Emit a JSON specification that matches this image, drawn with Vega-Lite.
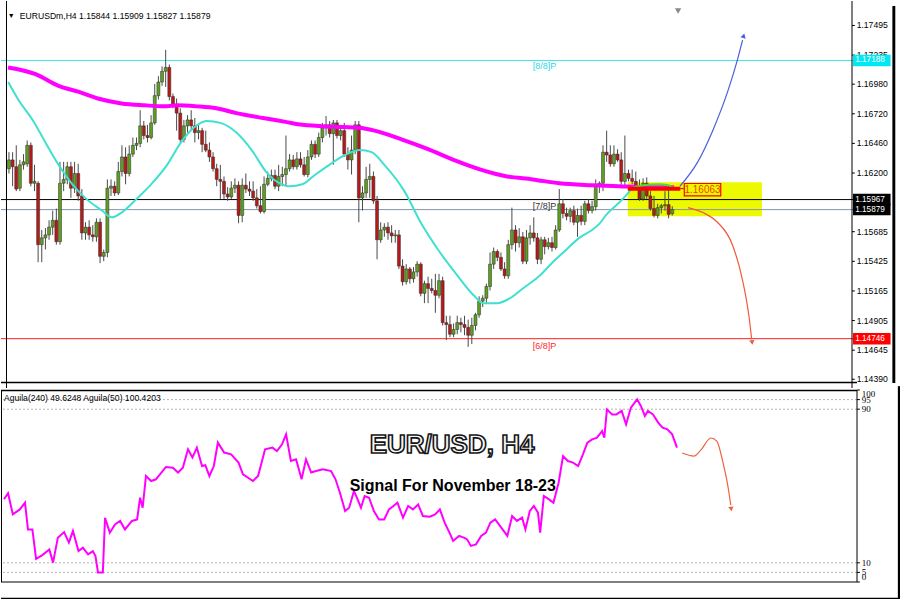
{
  "$schema": "https://vega.github.io/schema/vega-lite/v6.json",
  "padding": 0,
  "background": "#ffffff",
  "bounds": "flush",
  "spacing": 2,
  "config": {
    "view": {"stroke": null},
    "font": "Liberation Sans",
    "axis": {"labelFont": "Liberation Sans", "labelFontSize": 8.6, "labelColor": "#000000", "tickColor": "#000000", "domain": false, "grid": false, "labelOverlap": false, "labelBound": false}
  },
  "datasets": {
    "candles": [
      {"i":0,"o":1.16238,"h":1.16383,"l":1.16196,"c":1.16315},
      {"i":1,"o":1.16315,"h":1.16383,"l":1.16084,"c":1.16255},
      {"i":2,"o":1.16255,"h":1.16443,"l":1.16041,"c":1.16059},
      {"i":3,"o":1.16067,"h":1.16315,"l":1.16041,"c":1.16272},
      {"i":4,"o":1.16272,"h":1.16366,"l":1.1623,"c":1.16298},
      {"i":5,"o":1.16281,"h":1.16486,"l":1.16255,"c":1.16443},
      {"i":6,"o":1.16443,"h":1.16469,"l":1.16084,"c":1.1611},
      {"i":7,"o":1.1611,"h":1.16272,"l":1.16041,"c":1.16127},
      {"i":8,"o":1.1611,"h":1.16127,"l":1.15417,"c":1.15571},
      {"i":9,"o":1.15571,"h":1.157,"l":1.15417,"c":1.15631},
      {"i":10,"o":1.15631,"h":1.15717,"l":1.15529,"c":1.15657},
      {"i":11,"o":1.15657,"h":1.15785,"l":1.15614,"c":1.15725},
      {"i":12,"o":1.15725,"h":1.1587,"l":1.15657,"c":1.15785},
      {"i":13,"o":1.15785,"h":1.15888,"l":1.15571,"c":1.15597},
      {"i":14,"o":1.15597,"h":1.16298,"l":1.15571,"c":1.1611},
      {"i":15,"o":1.1611,"h":1.16298,"l":1.16041,"c":1.16144},
      {"i":16,"o":1.16144,"h":1.16298,"l":1.16101,"c":1.16255},
      {"i":17,"o":1.16255,"h":1.16298,"l":1.15982,"c":1.16067},
      {"i":18,"o":1.16067,"h":1.16298,"l":1.16025,"c":1.16196},
      {"i":19,"o":1.16196,"h":1.16281,"l":1.15956,"c":1.15999},
      {"i":20,"o":1.15999,"h":1.16059,"l":1.15614,"c":1.15674},
      {"i":21,"o":1.15674,"h":1.15768,"l":1.15614,"c":1.15725},
      {"i":22,"o":1.15725,"h":1.15785,"l":1.15614,"c":1.15657},
      {"i":23,"o":1.15657,"h":1.15742,"l":1.15597,"c":1.1564},
      {"i":24,"o":1.1564,"h":1.15802,"l":1.15597,"c":1.15768},
      {"i":25,"o":1.15768,"h":1.15802,"l":1.15409,"c":1.15469},
      {"i":26,"o":1.15469,"h":1.15529,"l":1.15426,"c":1.15503},
      {"i":27,"o":1.15503,"h":1.16144,"l":1.1546,"c":1.16067},
      {"i":28,"o":1.16067,"h":1.16144,"l":1.15999,"c":1.16084},
      {"i":29,"o":1.16084,"h":1.16127,"l":1.15999,"c":1.16025},
      {"i":30,"o":1.16025,"h":1.16298,"l":1.16007,"c":1.16213},
      {"i":31,"o":1.16213,"h":1.16443,"l":1.1617,"c":1.16341},
      {"i":32,"o":1.16341,"h":1.16426,"l":1.16101,"c":1.16196},
      {"i":33,"o":1.16196,"h":1.16443,"l":1.1617,"c":1.16366},
      {"i":34,"o":1.16366,"h":1.16512,"l":1.16341,"c":1.16443},
      {"i":35,"o":1.16443,"h":1.16512,"l":1.16401,"c":1.1646},
      {"i":36,"o":1.1646,"h":1.16751,"l":1.16426,"c":1.16614},
      {"i":37,"o":1.16614,"h":1.16657,"l":1.16495,"c":1.16529},
      {"i":38,"o":1.16529,"h":1.16623,"l":1.16469,"c":1.16512},
      {"i":39,"o":1.16512,"h":1.16708,"l":1.16495,"c":1.1664},
      {"i":40,"o":1.1664,"h":1.16982,"l":1.16623,"c":1.16879},
      {"i":41,"o":1.16879,"h":1.1705,"l":1.16845,"c":1.16999},
      {"i":42,"o":1.16999,"h":1.17136,"l":1.16965,"c":1.17093},
      {"i":43,"o":1.17093,"h":1.17281,"l":1.16956,"c":1.17127},
      {"i":44,"o":1.17127,"h":1.17153,"l":1.16837,"c":1.16871},
      {"i":45,"o":1.16871,"h":1.16897,"l":1.16768,"c":1.16802},
      {"i":46,"o":1.16802,"h":1.16854,"l":1.16572,"c":1.16726},
      {"i":47,"o":1.16726,"h":1.16768,"l":1.16469,"c":1.16495},
      {"i":48,"o":1.16495,"h":1.16666,"l":1.16469,"c":1.16614},
      {"i":49,"o":1.16614,"h":1.16708,"l":1.16555,"c":1.16666},
      {"i":50,"o":1.16666,"h":1.16751,"l":1.16572,"c":1.16614},
      {"i":51,"o":1.16614,"h":1.16683,"l":1.16469,"c":1.16555},
      {"i":52,"o":1.16555,"h":1.16623,"l":1.16495,"c":1.16572},
      {"i":53,"o":1.16572,"h":1.16597,"l":1.16383,"c":1.16452},
      {"i":54,"o":1.16452,"h":1.16572,"l":1.16383,"c":1.16401},
      {"i":55,"o":1.16401,"h":1.16469,"l":1.16298,"c":1.16341},
      {"i":56,"o":1.16341,"h":1.16383,"l":1.16213,"c":1.16238},
      {"i":57,"o":1.16238,"h":1.16281,"l":1.16084,"c":1.16144},
      {"i":58,"o":1.16144,"h":1.16272,"l":1.15973,"c":1.16127},
      {"i":59,"o":1.16127,"h":1.1617,"l":1.15973,"c":1.16016},
      {"i":60,"o":1.16016,"h":1.16076,"l":1.15956,"c":1.1599},
      {"i":61,"o":1.1599,"h":1.16127,"l":1.15973,"c":1.16067},
      {"i":62,"o":1.16067,"h":1.16153,"l":1.16025,"c":1.16093},
      {"i":63,"o":1.16093,"h":1.16127,"l":1.15759,"c":1.15828},
      {"i":64,"o":1.15828,"h":1.16153,"l":1.15768,"c":1.16093},
      {"i":65,"o":1.16093,"h":1.16196,"l":1.16025,"c":1.16059},
      {"i":66,"o":1.16059,"h":1.16127,"l":1.15999,"c":1.16041},
      {"i":67,"o":1.16041,"h":1.16127,"l":1.15956,"c":1.15982},
      {"i":68,"o":1.15982,"h":1.16059,"l":1.15888,"c":1.15913},
      {"i":69,"o":1.15913,"h":1.16084,"l":1.15845,"c":1.15862},
      {"i":70,"o":1.15862,"h":1.1617,"l":1.15845,"c":1.16101},
      {"i":71,"o":1.16101,"h":1.16213,"l":1.16084,"c":1.16153},
      {"i":72,"o":1.16153,"h":1.1623,"l":1.16127,"c":1.16179},
      {"i":73,"o":1.16179,"h":1.1623,"l":1.16059,"c":1.16084},
      {"i":74,"o":1.16084,"h":1.16272,"l":1.16041,"c":1.1617},
      {"i":75,"o":1.1617,"h":1.16255,"l":1.16084,"c":1.16187},
      {"i":76,"o":1.16187,"h":1.16529,"l":1.16084,"c":1.16238},
      {"i":77,"o":1.16238,"h":1.16366,"l":1.16213,"c":1.16315},
      {"i":78,"o":1.16315,"h":1.16358,"l":1.1623,"c":1.16255},
      {"i":79,"o":1.16255,"h":1.16383,"l":1.1623,"c":1.16324},
      {"i":80,"o":1.16324,"h":1.16383,"l":1.16247,"c":1.16272},
      {"i":81,"o":1.16272,"h":1.16341,"l":1.1617,"c":1.16187},
      {"i":82,"o":1.16187,"h":1.16401,"l":1.16162,"c":1.16341},
      {"i":83,"o":1.16341,"h":1.16486,"l":1.16315,"c":1.16452},
      {"i":84,"o":1.16452,"h":1.16486,"l":1.16332,"c":1.16366},
      {"i":85,"o":1.16366,"h":1.16555,"l":1.16341,"c":1.16512},
      {"i":86,"o":1.16512,"h":1.1664,"l":1.16469,"c":1.16597},
      {"i":87,"o":1.16597,"h":1.167,"l":1.16529,"c":1.16623},
      {"i":88,"o":1.16623,"h":1.16657,"l":1.16512,"c":1.16546},
      {"i":89,"o":1.16546,"h":1.16666,"l":1.16272,"c":1.1664},
      {"i":90,"o":1.1664,"h":1.16666,"l":1.16503,"c":1.16529},
      {"i":91,"o":1.16529,"h":1.16623,"l":1.16486,"c":1.16572},
      {"i":92,"o":1.16572,"h":1.1664,"l":1.16341,"c":1.16366},
      {"i":93,"o":1.16366,"h":1.16426,"l":1.1623,"c":1.16315},
      {"i":94,"o":1.16315,"h":1.16529,"l":1.16187,"c":1.16401},
      {"i":95,"o":1.16401,"h":1.16657,"l":1.16366,"c":1.16623},
      {"i":96,"o":1.16623,"h":1.16657,"l":1.15768,"c":1.15982},
      {"i":97,"o":1.15982,"h":1.16084,"l":1.15871,"c":1.16025},
      {"i":98,"o":1.16025,"h":1.16255,"l":1.15982,"c":1.16144},
      {"i":99,"o":1.16144,"h":1.16281,"l":1.15982,"c":1.1617},
      {"i":100,"o":1.1617,"h":1.16213,"l":1.1593,"c":1.15956},
      {"i":101,"o":1.15956,"h":1.15999,"l":1.15443,"c":1.15614},
      {"i":102,"o":1.15614,"h":1.15768,"l":1.15588,"c":1.157},
      {"i":103,"o":1.157,"h":1.15759,"l":1.1564,"c":1.15725},
      {"i":104,"o":1.15725,"h":1.15768,"l":1.15614,"c":1.15674},
      {"i":105,"o":1.15674,"h":1.15742,"l":1.15588,"c":1.15649},
      {"i":106,"o":1.15649,"h":1.157,"l":1.15588,"c":1.15657},
      {"i":107,"o":1.15657,"h":1.157,"l":1.15358,"c":1.15383},
      {"i":108,"o":1.15383,"h":1.15443,"l":1.15212,"c":1.15246},
      {"i":109,"o":1.15246,"h":1.154,"l":1.15221,"c":1.15358},
      {"i":110,"o":1.15358,"h":1.15375,"l":1.15229,"c":1.15272},
      {"i":111,"o":1.15272,"h":1.15375,"l":1.15238,"c":1.15332},
      {"i":112,"o":1.15332,"h":1.15426,"l":1.1529,"c":1.154},
      {"i":113,"o":1.154,"h":1.15417,"l":1.15118,"c":1.15144},
      {"i":114,"o":1.15144,"h":1.15255,"l":1.15058,"c":1.15229},
      {"i":115,"o":1.15229,"h":1.1529,"l":1.15058,"c":1.15187},
      {"i":116,"o":1.15187,"h":1.15272,"l":1.15144,"c":1.15169},
      {"i":117,"o":1.15169,"h":1.15315,"l":1.14973,"c":1.15127},
      {"i":118,"o":1.15127,"h":1.15315,"l":1.15101,"c":1.15255},
      {"i":119,"o":1.15255,"h":1.1529,"l":1.14862,"c":1.14887},
      {"i":120,"o":1.14887,"h":1.14947,"l":1.14733,"c":1.1487},
      {"i":121,"o":1.1487,"h":1.14947,"l":1.14759,"c":1.14785},
      {"i":122,"o":1.14785,"h":1.14879,"l":1.14759,"c":1.14827},
      {"i":123,"o":1.14827,"h":1.14947,"l":1.14785,"c":1.14887},
      {"i":124,"o":1.14887,"h":1.1493,"l":1.14802,"c":1.1487},
      {"i":125,"o":1.1487,"h":1.14947,"l":1.14776,"c":1.14845},
      {"i":126,"o":1.14845,"h":1.14913,"l":1.14674,"c":1.14776},
      {"i":127,"o":1.14776,"h":1.1493,"l":1.14699,"c":1.14862},
      {"i":128,"o":1.14862,"h":1.14973,"l":1.14819,"c":1.14956},
      {"i":129,"o":1.14956,"h":1.15118,"l":1.1493,"c":1.15075},
      {"i":130,"o":1.15075,"h":1.15127,"l":1.15024,"c":1.15101},
      {"i":131,"o":1.15101,"h":1.15229,"l":1.1505,"c":1.15204},
      {"i":132,"o":1.15204,"h":1.15503,"l":1.15169,"c":1.154},
      {"i":133,"o":1.154,"h":1.15546,"l":1.15358,"c":1.15511},
      {"i":134,"o":1.15511,"h":1.15529,"l":1.15426,"c":1.1546},
      {"i":135,"o":1.1546,"h":1.15503,"l":1.15341,"c":1.15358},
      {"i":136,"o":1.15358,"h":1.15417,"l":1.15272,"c":1.15298},
      {"i":137,"o":1.15298,"h":1.15614,"l":1.15272,"c":1.15571},
      {"i":138,"o":1.15571,"h":1.15896,"l":1.15529,"c":1.157},
      {"i":139,"o":1.157,"h":1.15742,"l":1.15511,"c":1.15588},
      {"i":140,"o":1.15588,"h":1.15717,"l":1.15546,"c":1.1564},
      {"i":141,"o":1.1564,"h":1.15683,"l":1.154,"c":1.15426},
      {"i":142,"o":1.15426,"h":1.157,"l":1.154,"c":1.15631},
      {"i":143,"o":1.15631,"h":1.15742,"l":1.15571,"c":1.15674},
      {"i":144,"o":1.15674,"h":1.15811,"l":1.15597,"c":1.15631},
      {"i":145,"o":1.15631,"h":1.15674,"l":1.154,"c":1.15443},
      {"i":146,"o":1.15443,"h":1.1564,"l":1.154,"c":1.15614},
      {"i":147,"o":1.15614,"h":1.1564,"l":1.15486,"c":1.15554},
      {"i":148,"o":1.15554,"h":1.15631,"l":1.15529,"c":1.15588},
      {"i":149,"o":1.15588,"h":1.1564,"l":1.15511,"c":1.15546},
      {"i":150,"o":1.15546,"h":1.15742,"l":1.15529,"c":1.157},
      {"i":151,"o":1.157,"h":1.16059,"l":1.15683,"c":1.1593},
      {"i":152,"o":1.1593,"h":1.15973,"l":1.15802,"c":1.15845},
      {"i":153,"o":1.15845,"h":1.15896,"l":1.15785,"c":1.1582},
      {"i":154,"o":1.1582,"h":1.15896,"l":1.15768,"c":1.1587},
      {"i":155,"o":1.1587,"h":1.15913,"l":1.15742,"c":1.15768},
      {"i":156,"o":1.15768,"h":1.15888,"l":1.1564,"c":1.15828},
      {"i":157,"o":1.15828,"h":1.15913,"l":1.15742,"c":1.15776},
      {"i":158,"o":1.15776,"h":1.15956,"l":1.15742,"c":1.1593},
      {"i":159,"o":1.1593,"h":1.15973,"l":1.15845,"c":1.15871},
      {"i":160,"o":1.15871,"h":1.15956,"l":1.15845,"c":1.15905},
      {"i":161,"o":1.15905,"h":1.16144,"l":1.15871,"c":1.16084},
      {"i":162,"o":1.16084,"h":1.16127,"l":1.16025,"c":1.1611},
      {"i":163,"o":1.1611,"h":1.16443,"l":1.16041,"c":1.16383},
      {"i":164,"o":1.16383,"h":1.16572,"l":1.16298,"c":1.16358},
      {"i":165,"o":1.16358,"h":1.16443,"l":1.16255,"c":1.16281},
      {"i":166,"o":1.16281,"h":1.16443,"l":1.16255,"c":1.16366},
      {"i":167,"o":1.16366,"h":1.16409,"l":1.16298,"c":1.16315},
      {"i":168,"o":1.16315,"h":1.16383,"l":1.16084,"c":1.16127},
      {"i":169,"o":1.16127,"h":1.16529,"l":1.16067,"c":1.16196},
      {"i":170,"o":1.16196,"h":1.1623,"l":1.16127,"c":1.16153},
      {"i":171,"o":1.16153,"h":1.1623,"l":1.16101,"c":1.16127},
      {"i":172,"o":1.16127,"h":1.16213,"l":1.16067,"c":1.16084},
      {"i":173,"o":1.16084,"h":1.16144,"l":1.15956,"c":1.15973},
      {"i":174,"o":1.15973,"h":1.16153,"l":1.15956,"c":1.1611},
      {"i":175,"o":1.1611,"h":1.16162,"l":1.15973,"c":1.15999},
      {"i":176,"o":1.15999,"h":1.16041,"l":1.1587,"c":1.15888},
      {"i":177,"o":1.15888,"h":1.15999,"l":1.15811,"c":1.15828},
      {"i":178,"o":1.15828,"h":1.1593,"l":1.15802,"c":1.15896},
      {"i":179,"o":1.15896,"h":1.1593,"l":1.15845,"c":1.15913},
      {"i":180,"o":1.15913,"h":1.16041,"l":1.1587,"c":1.15922},
      {"i":181,"o":1.15922,"h":1.16067,"l":1.15802,"c":1.15837},
      {"i":182,"o":1.15844,"h":1.15909,"l":1.15827,"c":1.15879}
    ],
    "ma_slow": [
      {"i":-0.25,"p":1.17127},{"i":7.3,"p":1.17068},{"i":13.6,"p":1.16965},{"i":19,"p":1.16914},{"i":24.4,"p":1.16854},{"i":30.9,"p":1.16811},{"i":37.2,"p":1.16794},{"i":42.6,"p":1.16785},{"i":46.1,"p":1.16794},{"i":51.5,"p":1.16785},{"i":56.9,"p":1.16768},{"i":62.4,"p":1.16726},{"i":69.7,"p":1.16683},{"i":75.9,"p":1.16649},{"i":80.5,"p":1.16623},{"i":89.5,"p":1.16606},{"i":96,"p":1.16597},{"i":100.3,"p":1.16572},{"i":107.7,"p":1.16495},{"i":115,"p":1.16409},{"i":122,"p":1.16315},{"i":129.4,"p":1.1623},{"i":136.7,"p":1.1617},{"i":143.7,"p":1.16144},{"i":151,"p":1.1611},{"i":160,"p":1.16093},{"i":167.3,"p":1.16084},{"i":174.6,"p":1.16076},{"i":182.5,"p":1.16076}
    ],
    "ma_fast": [
      {"i":-0.2,"p":1.16999},{"i":2.7,"p":1.16837},{"i":6.5,"p":1.16666},{"i":10,"p":1.16469},{"i":13.6,"p":1.16272},{"i":17.4,"p":1.16101},{"i":20.9,"p":1.15982},{"i":25.5,"p":1.15871},{"i":28.2,"p":1.15811},{"i":30.9,"p":1.15853},{"i":35.3,"p":1.15982},{"i":39,"p":1.16101},{"i":43.4,"p":1.16272},{"i":47.2,"p":1.16469},{"i":50.7,"p":1.16597},{"i":54.2,"p":1.16657},{"i":58,"p":1.1664},{"i":62.4,"p":1.16555},{"i":67,"p":1.16383},{"i":70.5,"p":1.16213},{"i":74.3,"p":1.1611},{"i":77,"p":1.16084},{"i":80.5,"p":1.16101},{"i":84.1,"p":1.16187},{"i":87.9,"p":1.16272},{"i":92.2,"p":1.16358},{"i":96.3,"p":1.16401},{"i":99.5,"p":1.16383},{"i":103,"p":1.16272},{"i":108.5,"p":1.16041},{"i":113.1,"p":1.15759},{"i":117.7,"p":1.15529},{"i":123.1,"p":1.15298},{"i":127.5,"p":1.15127},{"i":130.2,"p":1.15058},{"i":134,"p":1.15058},{"i":137.5,"p":1.15101},{"i":141,"p":1.15187},{"i":145.6,"p":1.15298},{"i":149.2,"p":1.15417},{"i":153,"p":1.15529},{"i":156.5,"p":1.15631},{"i":160,"p":1.157},{"i":161.9,"p":1.15751},{"i":164,"p":1.15837},{"i":166.5,"p":1.15913},{"i":169.2,"p":1.15999},{"i":170.8,"p":1.16059}
    ],
    "ma_green": [
      {"i":170,"p":1.16059},{"i":174.1,"p":1.16093},{"i":178.2,"p":1.16101},{"i":180.9,"p":1.16093},{"i":182.8,"p":1.16059}
    ],
    "levels": [
      {"n":"8/8","p":1.17188},{"n":"spot","p":1.15967},{"n":"bid","p":1.15879},{"n":"6/8","p":1.14746}
    ],
    "price_ticks": [
      {"v":1.17495},{"v":1.17235},{"v":1.1698},{"v":1.1672},{"v":1.1646},{"v":1.162},{"v":1.15685},{"v":1.15425},{"v":1.15165},{"v":1.14905},{"v":1.14645},{"v":1.1439}
    ],
    "osc": [
      {"i":0,"v":43.1},{"i":1.1,"v":46.2},{"i":2.4,"v":35.2},{"i":4.3,"v":37.8},{"i":5.7,"v":41.3},{"i":6.5,"v":27.4},{"i":7.7,"v":27.4},{"i":8.7,"v":12.1},{"i":10.3,"v":13.9},{"i":12.3,"v":17},{"i":13.3,"v":10.1},{"i":14.6,"v":23.1},{"i":16.3,"v":26},{"i":17.6,"v":20.5},{"i":18.7,"v":26.6},{"i":20.2,"v":16.1},{"i":21.4,"v":17.9},{"i":22.8,"v":14.4},{"i":24.1,"v":16.1},{"i":24.8,"v":13.5},{"i":25.5,"v":4.9},{"i":26.8,"v":4.9},{"i":27.4,"v":33.5},{"i":28.7,"v":25.7},{"i":30.1,"v":30},{"i":31.5,"v":31.8},{"i":32.8,"v":27.4},{"i":34.7,"v":31.8},{"i":36.1,"v":32.6},{"i":36.9,"v":43.9},{"i":37.6,"v":38.7},{"i":38.5,"v":55.2},{"i":39.9,"v":52.6},{"i":41.2,"v":53.5},{"i":43.9,"v":59.9},{"i":45.8,"v":59.5},{"i":47.2,"v":57},{"i":48.5,"v":59.5},{"i":49.9,"v":69.1},{"i":51.1,"v":64.8},{"i":52.3,"v":70},{"i":53.7,"v":60.4},{"i":54.6,"v":60.8},{"i":55.7,"v":55.2},{"i":56.9,"v":60.4},{"i":58,"v":72.6},{"i":59.7,"v":67.4},{"i":61.6,"v":66.5},{"i":63.6,"v":62.2},{"i":64.8,"v":56.1},{"i":66.2,"v":54.3},{"i":67.5,"v":52.6},{"i":68.9,"v":55.2},{"i":70.8,"v":69.1},{"i":72.8,"v":70},{"i":74,"v":68.2},{"i":75.4,"v":71.7},{"i":76.5,"v":76.9},{"i":77.8,"v":63},{"i":79.2,"v":63.9},{"i":80.7,"v":53.5},{"i":81.9,"v":63.9},{"i":83.3,"v":57},{"i":84.6,"v":57.8},{"i":86.5,"v":58.7},{"i":88.7,"v":57.8},{"i":89.9,"v":53.5},{"i":91.1,"v":46.5},{"i":92.5,"v":37},{"i":93.6,"v":38.7},{"i":94.9,"v":47.4},{"i":95.7,"v":43.9},{"i":96.8,"v":38.7},{"i":97.8,"v":44.8},{"i":99,"v":43.9},{"i":100.3,"v":37},{"i":101.7,"v":32.6},{"i":103.1,"v":32.6},{"i":104.4,"v":37.8},{"i":105.6,"v":39.6},{"i":106.7,"v":41.3},{"i":108.2,"v":33.5},{"i":109.6,"v":39.6},{"i":110.9,"v":37.8},{"i":112.3,"v":40.4},{"i":113.6,"v":34.4},{"i":115.5,"v":34},{"i":116.9,"v":35.2},{"i":118.2,"v":37.8},{"i":119.5,"v":30.9},{"i":120.8,"v":25.7},{"i":121.8,"v":21.4},{"i":123.4,"v":24},{"i":124.7,"v":23.1},{"i":125.6,"v":22.2},{"i":126.6,"v":18.8},{"i":128,"v":19.6},{"i":129.4,"v":24},{"i":130.7,"v":25.7},{"i":131.9,"v":30.9},{"i":133.2,"v":32.6},{"i":134.5,"v":29.2},{"i":136.5,"v":24},{"i":137.8,"v":34.4},{"i":139.1,"v":31.8},{"i":140.5,"v":33.5},{"i":141.4,"v":27.4},{"i":142.6,"v":37},{"i":143.7,"v":39.6},{"i":144.8,"v":36.1},{"i":145.4,"v":25.7},{"i":146.4,"v":44.8},{"i":147.8,"v":43},{"i":149,"v":41.3},{"i":150.4,"v":51.7},{"i":151.6,"v":65.6},{"i":152.9,"v":63},{"i":154.3,"v":62.2},{"i":155.7,"v":60.4},{"i":157,"v":66.5},{"i":158.2,"v":72.6},{"i":159.5,"v":74.3},{"i":160.8,"v":75.2},{"i":162.2,"v":78.6},{"i":162.8,"v":75.2},{"i":163.5,"v":89.9},{"i":164.9,"v":87.3},{"i":166.1,"v":87.3},{"i":167.5,"v":89.1},{"i":168.7,"v":82.1},{"i":170,"v":90.8},{"i":171.7,"v":95.1},{"i":172.7,"v":91.7},{"i":173.8,"v":86.5},{"i":174.6,"v":89.1},{"i":176,"v":87.3},{"i":177.4,"v":83},{"i":178.6,"v":80.4},{"i":179.9,"v":79.5},{"i":181.2,"v":76.9},{"i":182.5,"v":70}
    ]
  },
  "vconcat": [
    {
      "width": 856,
      "height": 387,
      "layer": [
        {
          "data": {"values": [{}]},
          "mark": {"type": "rect", "color": "#ecf900"},
          "encoding": {
            "x": {"datum": 169.8, "type": "quantitative", "scale": {"domain": [-0.8136, 231.32], "nice": false, "zero": false}, "axis": null},
            "x2": {"datum": 206.6},
            "y": {"datum": 1.16119, "type": "quantitative", "scale": {"domain": [1.14357, 1.17666], "nice": false, "zero": false}, "axis": null},
            "y2": {"datum": 1.1582}
          }
        },
        {
          "data": {"name": "price_ticks"},
          "mark": {"type": "rule", "color": "#000000", "strokeWidth": 1},
          "encoding": {
            "x": {"datum": 231.32, "type": "quantitative", "axis": null},
            "x2": {"datum": 232.1},
            "y": {"field": "v", "type": "quantitative", "axis": null}
          }
        },
        {
          "data": {"name": "price_ticks"},
          "mark": {"type": "text", "font": "Liberation Sans", "fontSize": 8.6, "color": "#000000", "align": "left", "baseline": "middle"},
          "encoding": {
            "x": {"datum": 232.6, "type": "quantitative", "axis": null},
            "y": {"field": "v", "type": "quantitative", "axis": null},
            "text": {"field": "v", "type": "quantitative", "format": ".5f"}
          }
        },
        {
          "data": {"name": "levels"},
          "mark": {"type": "rule", "strokeWidth": 1},
          "encoding": {
            "y": {"field": "p", "type": "quantitative", "axis": null},
            "stroke": {"field": "n", "type": "nominal", "scale": {"domain": ["8/8", "spot", "bid", "6/8"], "range": ["#40e4f0", "#000000", "#8796aa", "#ff2020"]}, "legend": null}
          }
        },
        {
          "data": {"name": "candles"},
          "mark": {"type": "rule", "color": "#4a4a4a", "strokeWidth": 1},
          "encoding": {
            "x": {"field": "i", "type": "quantitative", "axis": null},
            "y": {"field": "l", "type": "quantitative", "axis": null},
            "y2": {"field": "h"}
          }
        },
        {
          "data": {"name": "candles"},
          "mark": {"type": "bar", "size": 3, "stroke": "#2b2b2b", "strokeWidth": 0.5},
          "encoding": {
            "x": {"field": "i", "type": "quantitative", "axis": null},
            "y": {"field": "o", "type": "quantitative", "axis": null},
            "y2": {"field": "c"},
            "fill": {"condition": {"test": "datum.c >= datum.o", "value": "#5e9e22"}, "value": "#b51a1a"}
          }
        },
        {
          "data": {"name": "ma_slow"},
          "mark": {"type": "line", "stroke": "#ff00ff", "strokeWidth": 4, "interpolate": "monotone"},
          "encoding": {
            "x": {"field": "i", "type": "quantitative", "axis": null},
            "y": {"field": "p", "type": "quantitative", "axis": null}
          }
        },
        {
          "data": {"name": "ma_fast"},
          "mark": {"type": "line", "stroke": "#40e0d0", "strokeWidth": 2, "interpolate": "monotone"},
          "encoding": {
            "x": {"field": "i", "type": "quantitative", "axis": null},
            "y": {"field": "p", "type": "quantitative", "axis": null}
          }
        },
        {
          "data": {"name": "ma_green"},
          "mark": {"type": "line", "stroke": "#44dd44", "strokeWidth": 2, "interpolate": "monotone"},
          "encoding": {
            "x": {"field": "i", "type": "quantitative", "axis": null},
            "y": {"field": "p", "type": "quantitative", "axis": null}
          }
        },
        {
          "data": {"values": [{}]},
          "mark": {"type": "rule", "color": "#ff0000", "strokeWidth": 4},
          "encoding": {
            "x": {"datum": 169.8, "type": "quantitative", "axis": null},
            "x2": {"datum": 184.2},
            "y": {"datum": 1.16063, "type": "quantitative", "axis": null}
          }
        },
        {
          "data": {"values": [{}]},
          "mark": {"type": "rule", "color": "#ff0000", "strokeWidth": 1},
          "encoding": {
            "x": {"datum": 184.0, "type": "quantitative", "axis": null},
            "x2": {"datum": 185.3},
            "y": {"datum": 1.16063, "type": "quantitative", "axis": null}
          }
        },
        {
          "data": {"values": [{}]},
          "mark": {"type": "rect", "fillOpacity": 0, "stroke": "#ff0000", "strokeWidth": 1.2},
          "encoding": {
            "x": {"datum": 185.3, "type": "quantitative", "axis": null},
            "x2": {"datum": 195.3},
            "y": {"datum": 1.16108, "type": "quantitative", "axis": null},
            "y2": {"datum": 1.15999}
          }
        },
        {
          "data": {"values": [{}]},
          "mark": {"type": "text", "text": "1.16063", "font": "Liberation Sans", "fontSize": 10, "color": "#ff3a00", "align": "center", "baseline": "middle"},
          "encoding": {
            "x": {"datum": 190.3, "type": "quantitative", "axis": null},
            "y": {"datum": 1.16052, "type": "quantitative", "axis": null}
          }
        },
        {
          "data": {"values": [{"i":184.1,"p":1.16084},{"i":189,"p":1.16298},{"i":193.1,"p":1.16572},{"i":197.2,"p":1.16914},{"i":199.9,"p":1.17196},{"i":201.3,"p":1.17366}]},
          "mark": {"type": "line", "stroke": "#4a60d8", "strokeWidth": 1.2, "interpolate": "monotone"},
          "encoding": {
            "x": {"field": "i", "type": "quantitative", "axis": null},
            "y": {"field": "p", "type": "quantitative", "axis": null}
          }
        },
        {
          "data": {"values": [{"i":201.6,"p":1.17405}]},
          "mark": {"type": "point", "shape": "triangle-up", "angle": 15, "size": 28, "filled": true, "color": "#4a60d8", "opacity": 1},
          "encoding": {
            "x": {"field": "i", "type": "quantitative", "axis": null},
            "y": {"field": "p", "type": "quantitative", "axis": null}
          }
        },
        {
          "data": {"values": [{"i":186.3,"p":1.15896},{"i":190.4,"p":1.15853},{"i":194.4,"p":1.15768},{"i":198.5,"p":1.15571},{"i":201.2,"p":1.15272},{"i":203.1,"p":1.1493},{"i":203.8,"p":1.1474}]},
          "mark": {"type": "line", "stroke": "#f05a3c", "strokeWidth": 1.2, "interpolate": "monotone"},
          "encoding": {
            "x": {"field": "i", "type": "quantitative", "axis": null},
            "y": {"field": "p", "type": "quantitative", "axis": null}
          }
        },
        {
          "data": {"values": [{"i":203.9,"p":1.14712}]},
          "mark": {"type": "point", "shape": "triangle-down", "angle": -7, "size": 28, "filled": true, "color": "#f05a3c", "opacity": 1},
          "encoding": {
            "x": {"field": "i", "type": "quantitative", "axis": null},
            "y": {"field": "p", "type": "quantitative", "axis": null}
          }
        },
        {
          "data": {"values": [{}]},
          "mark": {"type": "text", "text": "[8/8]P", "fontSize": 9, "color": "#2ad8e8", "align": "left", "baseline": "middle"},
          "encoding": {
            "x": {"datum": 143.7, "type": "quantitative", "axis": null},
            "y": {"datum": 1.17136, "type": "quantitative", "axis": null}
          }
        },
        {
          "data": {"values": [{}]},
          "mark": {"type": "text", "text": "[7/8]P", "fontSize": 9, "color": "#333333", "align": "left", "baseline": "middle"},
          "encoding": {
            "x": {"datum": 143.7, "type": "quantitative", "axis": null},
            "y": {"datum": 1.15913, "type": "quantitative", "axis": null}
          }
        },
        {
          "data": {"values": [{}]},
          "mark": {"type": "text", "text": "[6/8]P", "fontSize": 9, "color": "#ff2a2a", "align": "left", "baseline": "middle"},
          "encoding": {
            "x": {"datum": 143.7, "type": "quantitative", "axis": null},
            "y": {"datum": 1.14682, "type": "quantitative", "axis": null}
          }
        },
        {
          "data": {"values": [{}]},
          "mark": {"type": "text", "text": "▼", "fontSize": 7, "color": "#000000", "align": "left", "baseline": "middle"},
          "encoding": {
            "x": {"datum": -0.3, "type": "quantitative", "axis": null},
            "y": {"datum": 1.17581, "type": "quantitative", "axis": null}
          }
        },
        {
          "data": {"values": [{}]},
          "mark": {"type": "text", "text": "EURUSDm,H4  1.15844 1.15909 1.15827 1.15879", "fontSize": 8.6, "color": "#000000", "align": "left", "baseline": "middle"},
          "encoding": {
            "x": {"datum": 2.98, "type": "quantitative", "axis": null},
            "y": {"datum": 1.17581, "type": "quantitative", "axis": null}
          }
        },
        {
          "data": {"name": "levels"},
          "mark": {"type": "bar", "size": 11.5},
          "encoding": {
            "x": {"datum": 231.6, "type": "quantitative", "axis": null},
            "x2": {"datum": 241.9},
            "y": {"field": "p", "type": "quantitative", "axis": null},
            "fill": {"field": "n", "type": "nominal", "scale": {"domain": ["8/8", "spot", "bid", "6/8"], "range": ["#00e8f2", "#000000", "#000000", "#ff0000"]}, "legend": null}
          }
        },
        {
          "data": {"name": "levels"},
          "mark": {"type": "text", "fontSize": 8.2, "color": "#ffffff", "align": "left", "baseline": "middle"},
          "encoding": {
            "x": {"datum": 232.2, "type": "quantitative", "axis": null},
            "y": {"field": "p", "type": "quantitative", "axis": null},
            "text": {"field": "p", "type": "quantitative", "format": ".5f"}
          }
        },
        {
          "data": {"values": [{}]},
          "mark": {"type": "point", "shape": "triangle-down", "size": 40, "filled": true, "color": "#888888", "opacity": 1},
          "encoding": {
            "x": {"datum": 183.6, "type": "quantitative", "axis": null},
            "y": {"datum": 1.17623, "type": "quantitative", "axis": null}
          }
        },
        {
          "data": {"values": [{}]},
          "mark": {"type": "rule", "color": "#000000", "strokeWidth": 1},
          "encoding": {
            "x": {"datum": 231.32, "type": "quantitative", "axis": null}
          }
        },
        {
          "data": {"values": [{}]},
          "mark": {"type": "rule", "color": "#000000", "strokeWidth": 1},
          "encoding": {
            "x": {"datum": -0.68, "type": "quantitative", "axis": null}
          }
        },
        {
          "data": {"values": [{}]},
          "mark": {"type": "rule", "color": "#000000", "strokeWidth": 1.5},
          "encoding": {
            "y": {"datum": 1.14362, "type": "quantitative", "axis": null}
          }
        },
        {
          "data": {"values": [{}]},
          "mark": {"type": "rect", "color": "#000000"},
          "encoding": {
            "x": {"datum": 242.4, "type": "quantitative", "axis": null},
            "x2": {"datum": 243.2},
            "y": {"datum": 1.17666, "type": "quantitative", "axis": null},
            "y2": {"datum": 1.14357}
          }
        }
      ]
    },
    {
      "width": 856,
      "height": 192,
      "layer": [
        {
          "data": {"values": [{"v": 95}, {"v": 90}, {"v": 10}, {"v": 5}]},
          "mark": {"type": "rule", "color": "#b4b4b4", "strokeWidth": 1, "strokeDash": [2, 2]},
          "encoding": {
            "y": {"field": "v", "type": "quantitative", "scale": {"domain": [0, 100], "nice": false, "zero": false}, "axis": null}
          }
        },
        {
          "data": {"values": [{"v": 100}, {"v": 95}, {"v": 90}, {"v": 10}, {"v": 5}, {"v": 0}]},
          "mark": {"type": "rule", "color": "#000000", "strokeWidth": 1},
          "encoding": {
            "x": {"datum": 231.32, "type": "quantitative", "axis": null},
            "x2": {"datum": 232.1},
            "y": {"field": "v", "type": "quantitative", "axis": null}
          }
        },
        {
          "data": {"values": [{"v": 100}]},
          "mark": {"type": "text", "font": "Liberation Serif", "fontSize": 9, "color": "#000000", "align": "left", "baseline": "top"},
          "encoding": {
            "x": {"datum": 232.6, "type": "quantitative", "axis": null},
            "y": {"field": "v", "type": "quantitative", "axis": null},
            "text": {"field": "v", "type": "quantitative", "format": "d"}
          }
        },
        {
          "data": {"values": [{"v": 95}, {"v": 90}, {"v": 10}, {"v": 5}]},
          "mark": {"type": "text", "font": "Liberation Serif", "fontSize": 9, "color": "#000000", "align": "left", "baseline": "middle"},
          "encoding": {
            "x": {"datum": 232.6, "type": "quantitative", "axis": null},
            "y": {"field": "v", "type": "quantitative", "axis": null},
            "text": {"field": "v", "type": "quantitative", "format": "d"}
          }
        },
        {
          "data": {"values": [{"v": 0}]},
          "mark": {"type": "text", "font": "Liberation Serif", "fontSize": 9, "color": "#000000", "align": "left", "baseline": "bottom"},
          "encoding": {
            "x": {"datum": 232.6, "type": "quantitative", "axis": null},
            "y": {"field": "v", "type": "quantitative", "axis": null},
            "text": {"field": "v", "type": "quantitative", "format": "d"}
          }
        },
        {
          "data": {"name": "osc"},
          "mark": {"type": "line", "stroke": "#ff00ff", "strokeWidth": 2},
          "encoding": {
            "x": {"field": "i", "type": "quantitative", "scale": {"domain": [-0.8136, 231.32], "nice": false, "zero": false},
              "axis": {"orient": "bottom", "title": null, "values": [-0.54, 15.46, 31.46, 47.46, 63.46, 79.46, 95.46, 111.46, 127.46, 143.46, 159.46, 175.46],
                "labelExpr": "['8 Oct 2025','10 Oct 16:00','15 Oct 04:00','17 Oct 20:00','22 Oct 08:00','26 Oct 21:05','29 Oct 12:00','3 Nov 00:00','5 Nov 16:00','10 Nov 04:00','12 Nov 20:00','17 Nov 08:00'][round((datum.value + 0.54) / 16)]",
                "labelAlign": "left", "labelFlush": false, "labelOverlap": false, "tickSize": 4, "labelPadding": 2}},
            "y": {"field": "v", "type": "quantitative", "axis": null}
          }
        },
        {
          "data": {"values": [{"i":183.9,"v":67.2},{"i":187.1,"v":65.6},{"i":189,"v":68.8},{"i":191.7,"v":75},{"i":193.3,"v":73.4},{"i":195,"v":62},{"i":196.3,"v":50},{"i":197.1,"v":40}]},
          "mark": {"type": "line", "stroke": "#f0603c", "strokeWidth": 1.2, "interpolate": "monotone"},
          "encoding": {
            "x": {"field": "i", "type": "quantitative", "title": null},
            "y": {"field": "v", "type": "quantitative", "axis": null}
          }
        },
        {
          "data": {"values": [{"i":197.2,"v":38}]},
          "mark": {"type": "point", "shape": "triangle-down", "angle": -7, "size": 28, "filled": true, "color": "#f0603c", "opacity": 1},
          "encoding": {
            "x": {"field": "i", "type": "quantitative", "title": null},
            "y": {"field": "v", "type": "quantitative", "axis": null}
          }
        },
        {
          "data": {"values": [{}]},
          "mark": {"type": "text", "text": "Aguila(240) 49.6248  Aguila(50) 100.4203", "fontSize": 8.6, "color": "#000000", "align": "left", "baseline": "middle"},
          "encoding": {
            "x": {"datum": 0, "type": "quantitative"},
            "y": {"datum": 95.8, "type": "quantitative", "axis": null}
          }
        },
        {
          "data": {"values": [{}]},
          "mark": {"type": "text", "text": "EUR/USD, H4", "fontSize": 26, "fontWeight": "bold", "fill": "#f6f6f6", "stroke": "#151515", "strokeWidth": 1.6, "align": "center", "baseline": "middle"},
          "encoding": {
            "x": {"datum": 121.5, "type": "quantitative"},
            "y": {"datum": 71.4, "type": "quantitative", "axis": null}
          }
        },
        {
          "data": {"values": [{}]},
          "mark": {"type": "text", "text": "Signal For November 18-23", "fontSize": 16, "fontWeight": "bold", "color": "#000000", "align": "center", "baseline": "middle"},
          "encoding": {
            "x": {"datum": 121.7, "type": "quantitative"},
            "y": {"datum": 50, "type": "quantitative", "axis": null}
          }
        },
        {
          "data": {"values": [{}]},
          "mark": {"type": "rule", "color": "#000000", "strokeWidth": 1.5},
          "encoding": {
            "y": {"datum": 99.8, "type": "quantitative", "axis": null}
          }
        },
        {
          "data": {"values": [{}]},
          "mark": {"type": "rule", "color": "#000000", "strokeWidth": 1},
          "encoding": {
            "y": {"datum": 0, "type": "quantitative", "axis": null}
          }
        },
        {
          "data": {"values": [{}]},
          "mark": {"type": "rule", "color": "#000000", "strokeWidth": 1},
          "encoding": {
            "x": {"datum": 231.32, "type": "quantitative"}
          }
        },
        {
          "data": {"values": [{}]},
          "mark": {"type": "rule", "color": "#000000", "strokeWidth": 1},
          "encoding": {
            "x": {"datum": -0.68, "type": "quantitative"}
          }
        },
        {
          "data": {"values": [{}]},
          "mark": {"type": "rect", "color": "#000000"},
          "encoding": {
            "x": {"datum": 242.4, "type": "quantitative"},
            "x2": {"datum": 243.2},
            "y": {"datum": 102, "type": "quantitative", "axis": null},
            "y2": {"datum": -9.6}
          }
        },
        {
          "data": {"values": [{}]},
          "mark": {"type": "rect", "color": "#000000"},
          "encoding": {
            "x": {"datum": -0.81, "type": "quantitative"},
            "x2": {"datum": 243.2},
            "y": {"datum": -8.2, "type": "quantitative", "axis": null},
            "y2": {"datum": -9.6}
          }
        }
      ]
    }
  ]
}
